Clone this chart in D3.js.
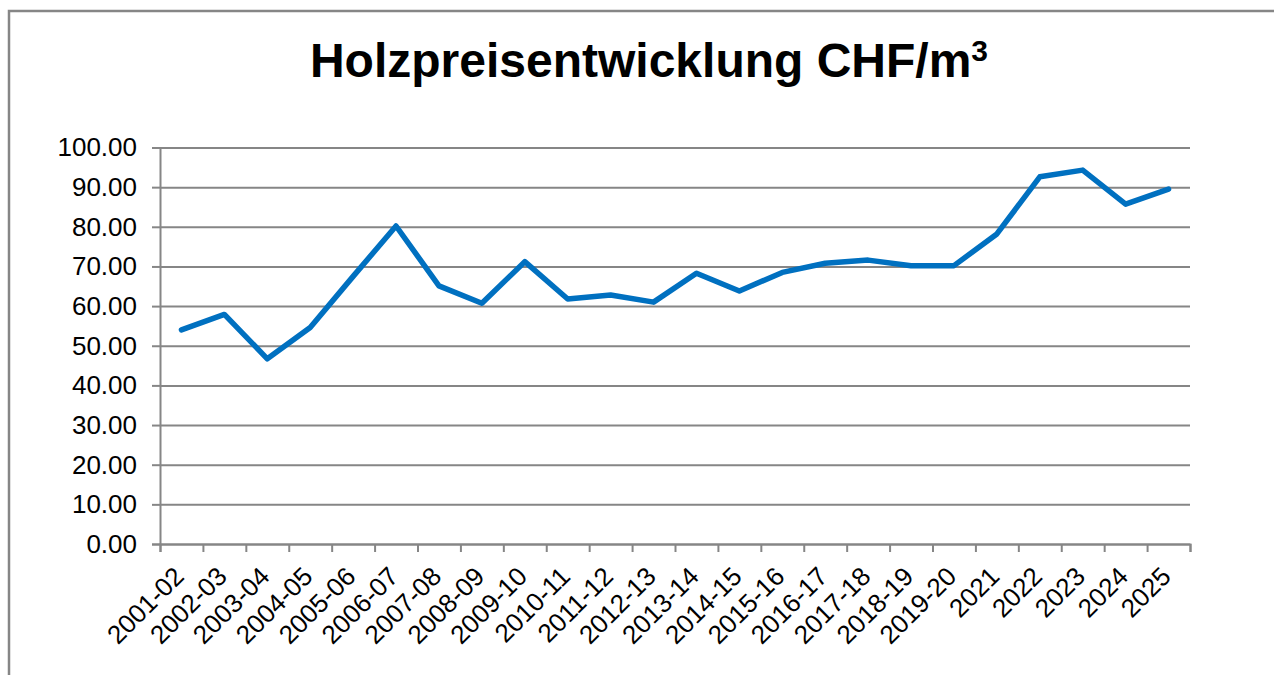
<!DOCTYPE html>
<html>
<head>
<meta charset="utf-8">
<script src="https://cdn.jsdelivr.net/npm/d3@7"></script>
<style>
  body { margin: 0; background: #fff; }
  svg { display: block; font-family: "Liberation Sans", Arial, sans-serif; }
</style>
</head>
<body>
<div id="chart"></div>
<script>
var years = ["2001-02", "2002-03", "2003-04", "2004-05", "2005-06", "2006-07",
             "2007-08", "2008-09", "2009-10", "2010-11", "2011-12", "2012-13",
             "2013-14", "2014-15", "2015-16", "2016-17", "2017-18", "2018-19",
             "2019-20", "2021", "2022", "2023", "2024", "2025"];

var prices = [54.0, 57.9, 46.7, 54.6, 67.5, 80.2,
              65.1, 60.7, 71.2, 61.8, 62.8, 61.0,
              68.3, 63.8, 68.5, 70.8, 71.6, 70.2,
              70.2, 78.2, 92.6, 94.3, 85.7, 89.5];

var yTicks = [0, 10, 20, 30, 40, 50, 60, 70, 80, 90, 100];

function init() {
    var w = 1274;
    var h = 675;
    var left = 160, right = 1190, top = 147.5, bottom = 544;
    var grey = "#868686";

    var svg = d3.select("#chart")
        .append("svg")
        .attr("width", w)
        .attr("height", h);

    // outer frame (only top and left visible)
    svg.append("rect")
        .attr("x", 9)
        .attr("y", 11)
        .attr("width", 1400)
        .attr("height", 800)
        .attr("fill", "#fff")
        .attr("stroke", grey)
        .attr("stroke-width", 2.5);

    var title = svg.append("text")
        .attr("x", 649)
        .attr("y", 77)
        .attr("text-anchor", "middle")
        .attr("font-size", 48)
        .attr("font-weight", "bold")
        .attr("fill", "#000");
    title.append("tspan").text("Holzpreisentwicklung CHF/m");
    title.append("tspan")
        .attr("font-size", 30)
        .attr("dy", -16)
        .text("3");

    var xscale = d3.scaleBand()
        .domain(years)
        .range([left, right]);

    var xIdx = d3.scaleLinear()
        .domain([0, years.length])
        .range([left, right]);

    var yscale = d3.scaleLinear()
        .domain([0, 100])
        .range([bottom, top]);

    // gridlines
    var grid = svg.append("g")
        .attr("transform", "translate(" + left + ",0)")
        .call(d3.axisLeft(yscale)
            .tickValues(yTicks)
            .tickSize(-(right - left))
            .tickFormat(""));
    grid.select(".domain").remove();
    grid.selectAll("line").attr("stroke", grey).attr("stroke-width", 2);

    // y axis
    var yAxis = svg.append("g")
        .attr("transform", "translate(" + left + ",0)")
        .call(d3.axisLeft(yscale)
            .tickValues(yTicks)
            .tickSize(8)
            .tickPadding(15)
            .tickFormat(d3.format(".2f")));
    yAxis.select(".domain").attr("stroke", grey).attr("stroke-width", 2);
    yAxis.selectAll("line").attr("stroke", grey).attr("stroke-width", 2);
    yAxis.selectAll("text")
        .attr("font-size", 26)
        .attr("font-family", "Liberation Sans, Arial, sans-serif")
        .attr("fill", "#000");

    // x axis ticks between categories
    var xAxis = svg.append("g")
        .attr("transform", "translate(0," + bottom + ")")
        .call(d3.axisBottom(xIdx)
            .tickValues(d3.range(years.length + 1))
            .tickSize(8)
            .tickFormat(""));
    xAxis.select(".domain").attr("stroke", grey).attr("stroke-width", 2);
    xAxis.selectAll("line").attr("stroke", grey).attr("stroke-width", 2);

    // x labels, rotated
    svg.append("g")
        .selectAll("text")
        .data(years)
        .enter()
        .append("text")
        .attr("transform", function(d) {
            var cx = xscale(d) + xscale.bandwidth() / 2 + 4;
            return "translate(" + cx + ",578) rotate(-45)";
        })
        .attr("text-anchor", "end")
        .attr("font-size", 26)
        .attr("fill", "#000")
        .text(function(d) { return d; });

    var line = d3.line()
        .x(function(d, i) { return xscale(years[i]) + xscale.bandwidth() / 2; })
        .y(function(d) { return yscale(d); });

    svg.append("path")
        .datum(prices)
        .attr("d", line)
        .attr("fill", "none")
        .attr("stroke", "#0070C0")
        .attr("stroke-width", 5.5)
        .attr("stroke-linejoin", "round")
        .attr("stroke-linecap", "round");
}

window.onload = init;
</script>
</body>
</html>
